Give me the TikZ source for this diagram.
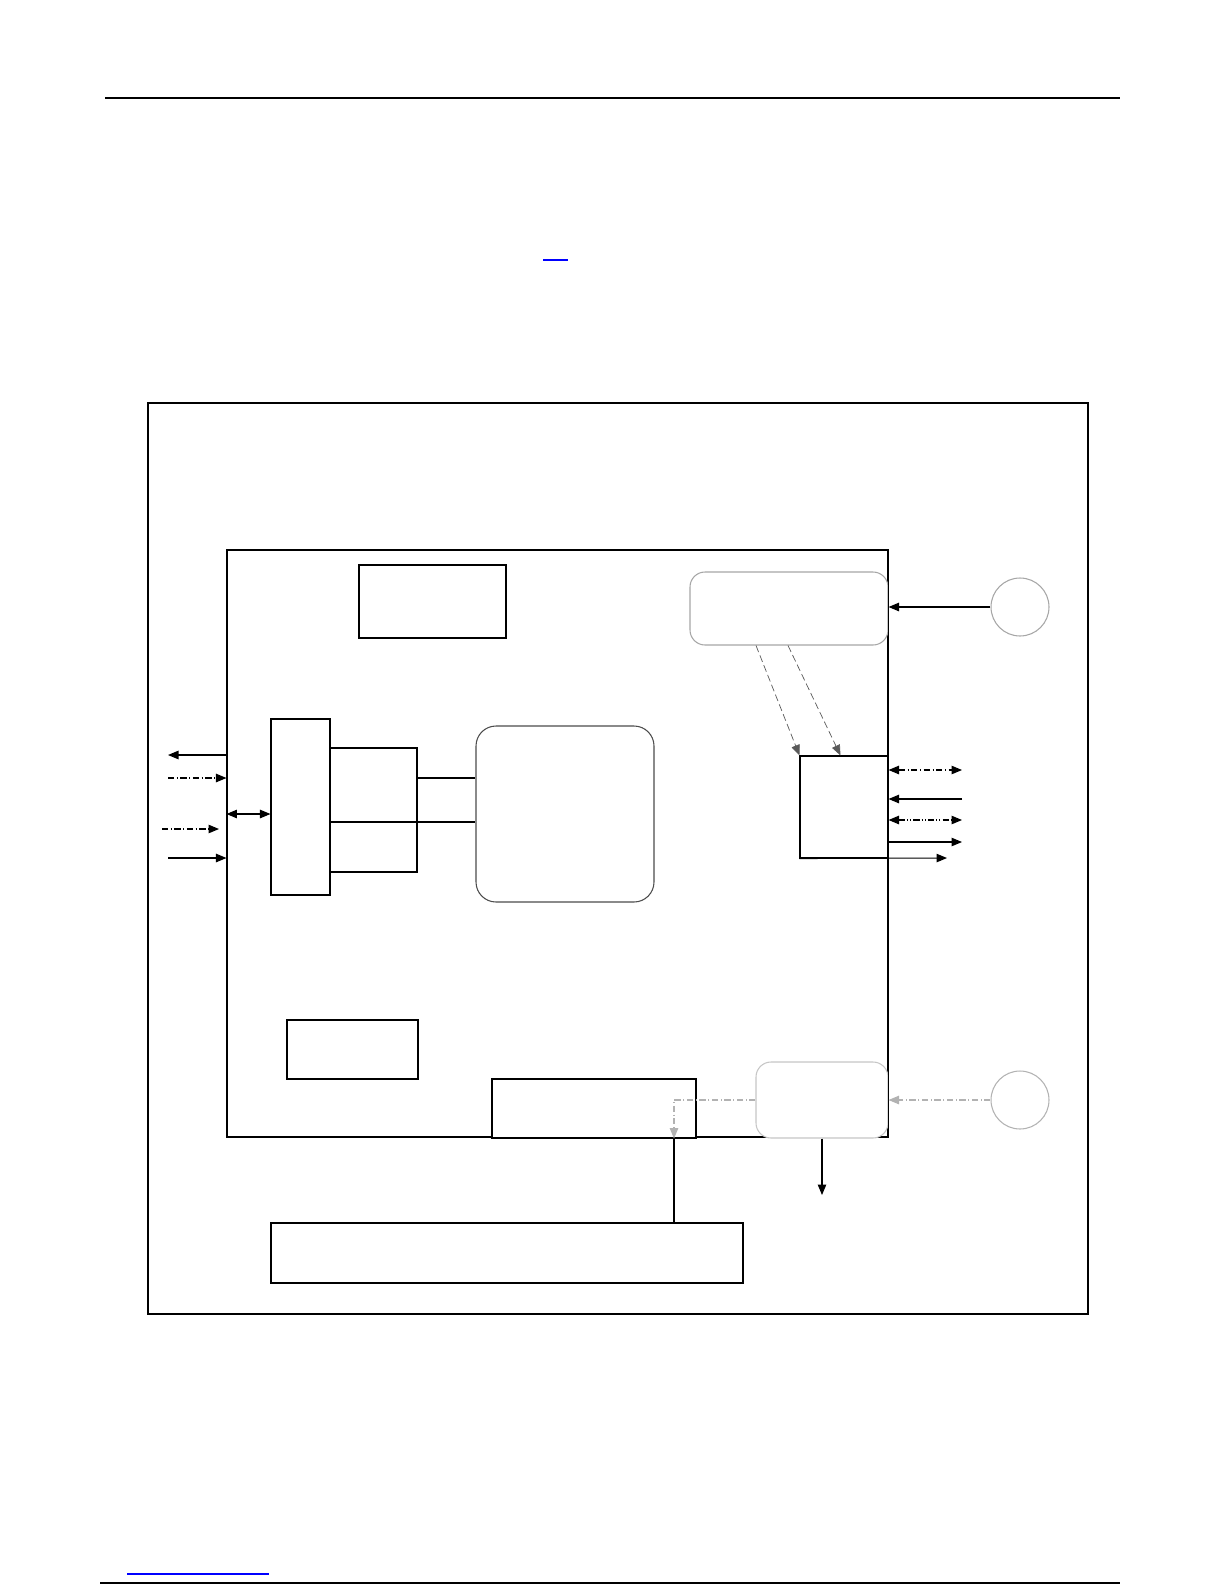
\documentclass[tikz,border=0pt]{standalone}
\usetikzlibrary{arrows.meta,positioning,fit,calc}

\begin{document}
\begin{tikzpicture}[
  x=0.02cm, y=-0.02cm,
  line width=0.6pt,
  box/.style={draw, inner sep=0pt},
  rbox/.style={draw=gray!70, fill=white, rounded corners=3mm, inner sep=0pt},
  circ/.style={draw=gray!70, circle, minimum size=1.16cm, inner sep=0pt},
  arr/.style={-{Triangle[length=2.1mm,width=1.7mm]}},
  darr/.style={{Triangle[length=2.1mm,width=1.7mm]}-{Triangle[length=2.1mm,width=1.7mm]}},
  dd/.style={dash pattern=on 3.5pt off 1.5pt on 0.6pt off 1.5pt},
  ddd/.style={dash pattern=on 3.5pt off 1.2pt on 0.6pt off 1.2pt on 0.6pt off 1.2pt},
  dsh/.style={draw=gray!70!black, line width=0.4pt, dash pattern=on 4pt off 2pt}]
\useasboundingbox (0,0) rectangle (1225,1585);
% page rules
\draw[line width=1pt] (105,98) -- (1120,98);
\draw[blue, line width=0.6pt] (543,260) -- (568,260);
\draw[blue, line width=0.8pt] (127,1574) -- (269,1574);
\draw[line width=1pt] (100,1583) -- (1120,1583);
% frames
\node[box, fit={(148,403) (1088,1314)}] (frame) {};
\node[box, fit={(227,550) (888,1137)}] (inner) {};
% upper blocks
\node[box, fit={(359,565) (506,638)}] (cfg) {};
\node[rbox, fit={(690,572) (888,645)}] (rb1) {};
\node[circ] (c1) at (1020,607) {};
\node[box, fit={(800,756) (888,858)}] (port) {};
\draw[arr] (c1) -- (c1 -| rb1.east);
\draw[dsh, arr] ($(rb1.south)+(-33,0)$) -- (port.north west);
\draw[dsh, arr] ($(rb1.south)+(-1,0)$) -- ($(port.north west)+(41,0)$);
% left side
\node[box, fit={(271,719) (330,895)}] (tb) {};
\node[box, fit={(330,748) (417,872)}] (mb) {};
\node[rbox, draw=gray!60!black, rounded corners=4mm, fit={(476,726) (654,902)}] (core) {};
\coordinate (l1) at (0,778);
\coordinate (l2) at (0,822);
\draw (mb.east |- l1) -- (core.west |- l1);
\draw (tb.east |- l2) -- (core.west |- l2);
\coordinate (a1) at (168,755);
\coordinate (a2) at (168,778);
\coordinate (a3) at (0,814);
\coordinate (a4) at (162,829);
\coordinate (a4e) at (219,829);
\coordinate (a5) at (168,858);
\draw[arr] (inner.west |- a1) -- (a1);
\draw[arr, dd] (a2) -- (inner.west |- a2);
\draw[darr] (inner.west |- a3) -- (tb.west |- a3);
\draw[arr, dd] (a4) -- (a4e);
\draw[arr] (a5) -- (inner.west |- a5);
% right side
\coordinate (r1) at (962,770);
\coordinate (r2) at (962,799);
\coordinate (r3) at (962,820);
\coordinate (r4) at (962,842);
\coordinate (r5) at (947,858);
\draw[darr, dd] (port.east |- r1) -- (r1);
\draw[arr] (r2) -- (port.east |- r2);
\draw[darr, ddd] (port.east |- r3) -- (r3);
\draw[arr] (port.east |- r4) -- (r4);
\draw[arr] (port.south west) -- (r5);
% lower blocks
\node[box, fit={(287,1020) (418,1079)}] (mem) {};
\node[box, fill=white, fit={(492,1079) (696,1138)}] (bus) {};
\node[rbox, draw=gray!45, fit={(756,1062) (888,1138)}] (rb2) {};
\node[circ, draw=gray!60] (c2) at (1020,1100) {};
\node[box, fit={(271,1223) (743,1283)}] (wide) {};
\draw (inner.north east) -- (inner.south east);
\coordinate (tap) at (674,0);
\coordinate (out) at (822,1195);
\draw[arr, dd, gray!60] (c2) -- (c2 -| rb2.east);
\draw[arr, dd, gray!60] (rb2.west) -- (rb2.west -| tap) -- (bus.south -| tap);
\draw (bus.south -| tap) -- (wide.north -| tap);
\draw[arr] (rb2.south) -- (out);
\end{tikzpicture}
\end{document}
